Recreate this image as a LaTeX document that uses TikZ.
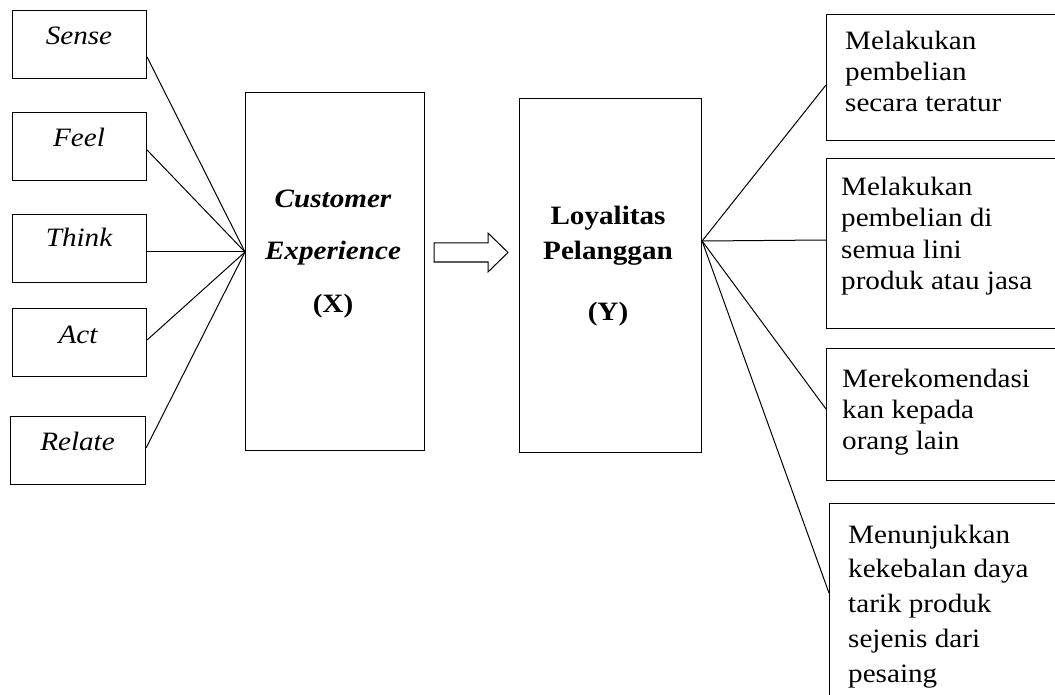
\documentclass[tikz,border=0pt]{standalone}
\usepackage{fontspec}
\setmainfont{Liberation Serif}[FakeStretch=1.1]
\usetikzlibrary{calc}
\begin{document}
\begin{tikzpicture}[x=1pt,y=-1pt,
  box/.style={draw, line width=1.1pt, inner sep=0pt, anchor=north west},
  conn/.style={line width=1pt},
  lbl/.style={anchor=base, inner sep=0pt, font=\fontsize{26.5}{31}\selectfont\itshape},
  mid/.style={anchor=base, inner sep=0pt, font=\fontsize{26.5}{31}\selectfont\bfseries},
  rt/.style={anchor=north west, inner sep=0pt, align=left}]
\clip (0,0) rectangle (1055,695);
% left boxes
\node[box, minimum width=134pt, minimum height=68pt] (sense) at (12,10) {};
\node[box, minimum width=134pt, minimum height=68pt] (feel) at (12,112) {};
\node[box, minimum width=134pt, minimum height=68pt] (think) at (12,214) {};
\node[box, minimum width=134pt, minimum height=68pt] (act) at (12,308) {};
\node[box, minimum width=135pt, minimum height=68pt] (relate) at (10,416) {};
\node[lbl] (senset) at (79,45) {Sense};
\node[lbl] (feelt) at (79,147) {Feel};
\node[lbl] (thinkt) at (79,247) {Think};
\node[lbl] (actt) at (78,343) {Act};
\node[lbl] (relatet) at (77.5,450) {Relate};
% center boxes
\node[box, minimum width=179pt, minimum height=358pt] (cx) at (245,92) {};
\node[box, minimum width=182pt, minimum height=354pt] (ly) at (519,98) {};
\node[mid, font=\fontsize{26.5}{31}\selectfont\bfseries\itshape] (cxt1) at (333,208) {Customer};
\node[mid, font=\fontsize{26.5}{31}\selectfont\bfseries\itshape] (cxt2) at (333,260) {Experience};
\node[mid] (cxt3) at (333,312) {(X)};
\node[mid] (lyt1) at (608,225) {Loyalitas};
\node[mid] (lyt2) at (608,260) {Pelanggan};
\node[mid] (lyt3) at (608,320) {(Y)};
% right boxes
\node[box, minimum width=260pt, minimum height=126pt] (r1) at (826,14) {};
\node[box, minimum width=260pt, minimum height=170pt] (r2) at (826,158) {};
\node[box, minimum width=260pt, minimum height=132pt] (r3) at (826,348) {};
\node[box, minimum width=260pt, minimum height=250pt] (r4) at (829,503) {};
\node[rt, font=\fontsize{26.5}{31.3}\selectfont] (r1t) at (845,27.1) {\strut Melakukan\\pembelian\\secara teratur};
\node[rt, font=\fontsize{26.5}{31.5}\selectfont] (r2t) at (841,172.95) {\strut Melakukan\\pembelian di\\semua lini\\produk atau jasa};
\node[rt, font=\fontsize{26.5}{31}\selectfont] (r3t) at (842,365.3) {\strut Merekomendasi\\kan kepada\\orang lain};
\node[rt, font=\fontsize{26.5}{34.75}\selectfont] (r4t) at (848,518.7) {\strut Menunjukkan\\kekebalan daya\\tarik produk\\sejenis dari\\pesaing};
% hubs
\coordinate (hubL) at ($(cx.north west)+(0,160)$);
\coordinate (hubR) at ($(ly.north east)+(0,143)$);
\draw[conn] ($(sense.north east)+(0,47)$) -- (hubL);
\draw[conn] ($(feel.north east)+(0,38)$) -- (hubL);
\draw[conn] ($(think.north east)+(0,38)$) -- (hubL);
\draw[conn] ($(act.north east)+(0,32)$) -- (hubL);
\draw[conn] ($(relate.north east)+(0,32)$) -- (hubL);
\draw[conn] (hubR) -- ($(r1.north west)+(0,71)$);
\draw[conn] (hubR) -- ($(r2.north west)+(0,82)$);
\draw[conn] (hubR) -- ($(r3.north west)+(0,61)$);
\draw[conn] (hubR) -- ($(r4.north west)+(0,90)$);
% block arrow
\draw[line width=1pt, line join=miter] (434,243) -- (488,243) -- (488,233) -- (508,252.5) -- (488,272) -- (488,262) -- (434,262) -- cycle;
\end{tikzpicture}
\end{document}
